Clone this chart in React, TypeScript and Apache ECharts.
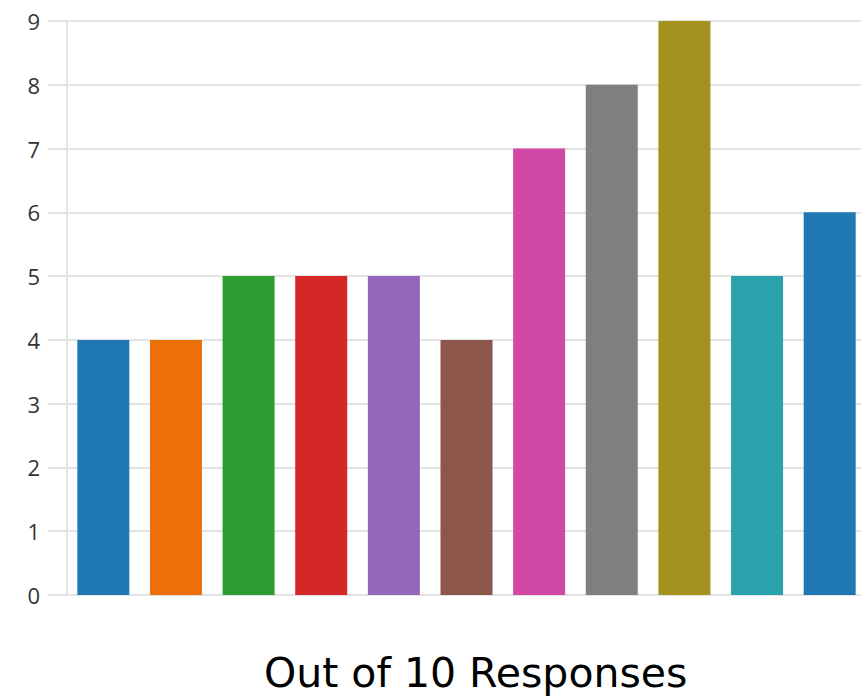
import React, { useEffect, useRef } from "react";
import * as echarts from "echarts";

// Responses per item, out of 10
const categories = ["1", "2", "3", "4", "5", "6", "7", "8", "9", "10", "11"];
const values = [4, 4, 5, 5, 5, 4, 7, 8, 9, 5, 6];
const barColors = [
  "#1f77b4",
  "#ec7008",
  "#2c9d30",
  "#d62728",
  "#9467bd",
  "#8c564b",
  "#d248a6",
  "#7f7f7f",
  "#a3931e",
  "#2aa3ac",
  "#1f77b4",
];
const yTicks = [0, 1, 2, 3, 4, 5, 6, 7, 8, 9];
const titleText = "Out of 10 Responses";

export default function App() {
  const ref = useRef<HTMLDivElement>(null);

  useEffect(() => {
    if (!ref.current) return;
    const chart = echarts.init(ref.current, undefined, { renderer: "svg" });
    chart.setOption({
      animation: false,
      title: {
        text: titleText,
        left: 264,
        top: 652,
        padding: 0,
        textStyle: {
          fontFamily: "DejaVu Sans",
          fontSize: 41,
          fontWeight: "normal",
          color: "#000000",
        },
      },
      // plot area runs slightly past the visible right edge
      grid: { left: 67, right: 0, top: 21, bottom: 102 },
      xAxis: {
        type: "category",
        data: categories,
        axisLine: { show: true, lineStyle: { color: "#e3e3e3", width: 2 } },
        axisTick: { show: false },
        axisLabel: { show: false },
      },
      yAxis: {
        type: "value",
        min: yTicks[0],
        max: yTicks[yTicks.length - 1],
        interval: 1,
        axisLine: { show: true, lineStyle: { color: "#e3e3e3", width: 2 } },
        axisTick: { show: true, length: 19, lineStyle: { color: "#e3e3e3", width: 2 } },
        splitLine: { show: true, lineStyle: { color: "#e3e3e3", width: 2 } },
        axisLabel: {
          margin: 27,
          fontFamily: "Open Sans",
          fontSize: 22,
          color: "#333333",
        },
      },
      series: [
        {
          type: "bar",
          data: values.map((v, i) => ({ value: v, itemStyle: { color: barColors[i % barColors.length] } })),
          barWidth: 52,
        },
      ],
    });
    return () => chart.dispose();
  }, []);

  return (
    <div
      style={{
        position: "absolute",
        left: 0,
        top: 0,
        width: 861,
        height: 697,
        overflow: "hidden",
      }}
    >
      <div ref={ref} style={{ width: 866, height: 697 }} />
    </div>
  );
}
